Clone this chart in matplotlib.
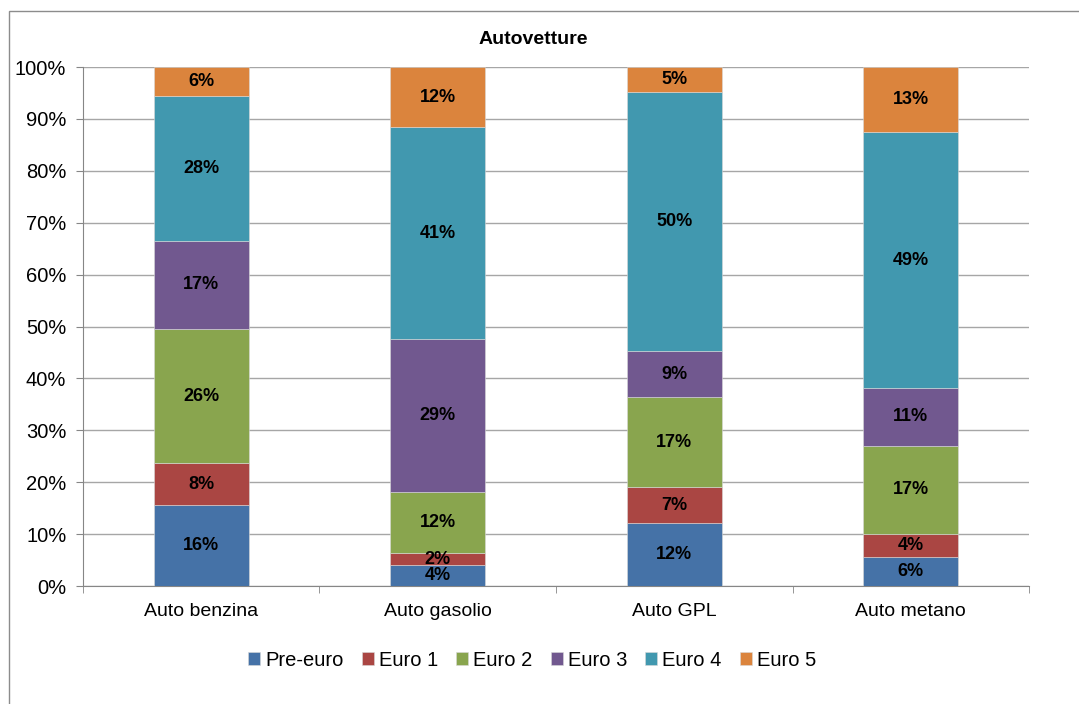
import matplotlib.pyplot as plt
from matplotlib.patches import Rectangle
from matplotlib.ticker import PercentFormatter, FixedLocator

plt.rcParams['font.family'] = ['Liberation Sans', 'DejaVu Sans']

categories = ['Auto benzina', 'Auto gasolio', 'Auto GPL', 'Auto metano']
series_names = ['Pre-euro', 'Euro 1', 'Euro 2', 'Euro 3', 'Euro 4', 'Euro 5']
colors = ['#4572A7', '#AA4643', '#89A54E', '#71588F', '#4198AF', '#DB843D']

pre_euro = [15.6, 4.0, 12.1, 5.6]
euro1 = [8.1, 2.3, 6.9, 4.4]
euro2 = [25.8, 11.9, 17.4, 17.0]
euro3 = [17.0, 29.3, 8.9, 11.2]
euro4 = [27.9, 40.9, 49.9, 49.2]
euro5 = [5.6, 11.6, 4.8, 12.6]
series = [pre_euro, euro1, euro2, euro3, euro4, euro5]

fig = plt.figure(figsize=(10.79, 7.04), dpi=100)
ax = fig.add_axes([0.0769, 0.1676, 0.8768, 0.7372])

# outer chart frame (right and bottom edges fall outside the image)
fig.patches.append(Rectangle((9 / 1079, -0.05), 1.1, 1.05 - 11 / 704,
                             transform=fig.transFigure, fill=False,
                             edgecolor='#8c8c8c', linewidth=1))

x = list(range(len(categories)))
bottom = [0.0] * len(categories)
for name, vals, col in zip(series_names, series, colors):
    ax.bar(x, vals, width=0.4, bottom=bottom, color=col, label=name,
           edgecolor='#d9d9d9', linewidth=0.4, zorder=3)
    for xi, v, b in zip(x, vals, bottom):
        ax.text(xi, b + v / 2, f'{round(v):.0f}%', ha='center', va='center',
                fontsize=13, fontweight='bold', color='black', zorder=4)
    bottom = [b + v for b, v in zip(bottom, vals)]

ax.set_xlim(-0.5, 3.5)
ax.set_ylim(0, 100)
ax.set_yticks(range(0, 101, 10))
ax.yaxis.set_major_formatter(PercentFormatter(decimals=0))
ax.set_xticks(x)
ax.set_xticklabels(categories)
ax.xaxis.set_minor_locator(FixedLocator([-0.5, 0.5, 1.5, 2.5, 3.5]))
ax.tick_params(axis='x', which='major', length=0, pad=12, labelsize=14)
ax.tick_params(axis='x', which='minor', length=5, color='#868686')
ax.tick_params(axis='y', length=5, color='#868686', labelsize=14.5, pad=7)

ax.grid(axis='y', color='#a6a6a6', linewidth=1, zorder=0)
for s in ['top', 'right']:
    ax.spines[s].set_visible(False)
ax.spines['left'].set_color('#868686')
ax.spines['bottom'].set_color('#868686')
ax.spines['left'].set_zorder(5)

fig.text(533 / 1079, 1 - 40 / 704, 'Autovetture', ha='center', va='center',
         fontsize=14, fontweight='bold')

fig.legend(loc='center', bbox_to_anchor=(532 / 1079, 1 - 660 / 704), ncol=6,
           frameon=False, fontsize=14.5, handlelength=0.6, handleheight=0.6,
           handletextpad=0.25, columnspacing=0.9)

fig.savefig('out.png', dpi=100)
